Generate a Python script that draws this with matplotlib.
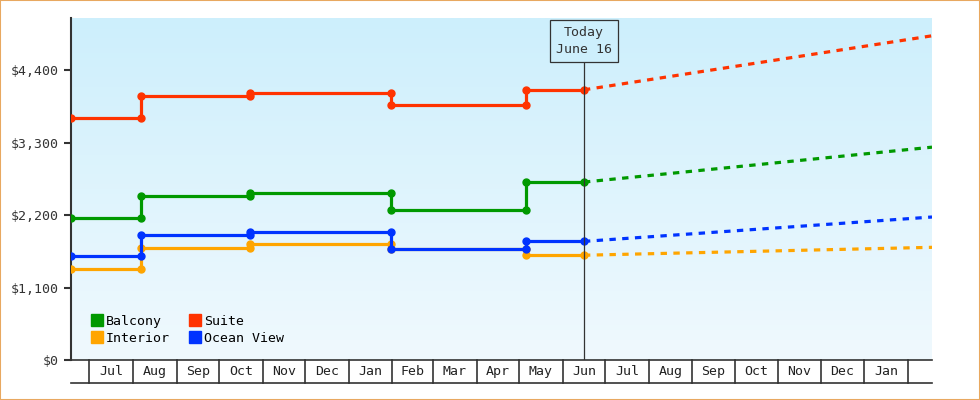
import matplotlib
matplotlib.use("Agg")
import matplotlib.pyplot as plt
import matplotlib.dates as mdates
import matplotlib.transforms as mtrans
import numpy as np
from datetime import date

plt.rcParams['font.family'] = ['DejaVu Sans Mono']

series = ["Balcony", "Interior", "Suite", "Ocean View"]
colors = ["#009900", "#ffa500", "#ff3300", "#0033ff"]
change_dates = [date(2023, 6, 18), date(2023, 8, 7), date(2023, 10, 23), date(2024, 1, 31), date(2024, 5, 6)]
today = date(2024, 6, 16)
end_date = date(2025, 2, 18)
levels = {
    "Balcony":    [2160, 2490, 2530, 2280, 2700],
    "Interior":   [1380, 1700, 1760, 1690, 1590],
    "Suite":      [3670, 4010, 4050, 3870, 4100],
    "Ocean View": [1580, 1890, 1950, 1690, 1800],
}
forecast_end = {"Balcony": 3230, "Interior": 1710, "Suite": 4920, "Ocean View": 2170}
yticks = [0, 1100, 2200, 3300, 4400]
ytick_labels = ["$0", "$1,100", "$2,200", "$3,300", "$4,400"]
months = ["Jul", "Aug", "Sep", "Oct", "Nov", "Dec", "Jan", "Feb", "Mar", "Apr", "May", "Jun",
          "Jul", "Aug", "Sep", "Oct", "Nov", "Dec", "Jan"]

fig = plt.figure(figsize=(9.8, 4), dpi=100)
fig.patches.append(plt.Rectangle((0, 0), 1, 1, transform=fig.transFigure, fill=False,
                                 edgecolor="#e8a860", linewidth=1.5))
ax = fig.add_axes([71/980, 40/400, 861/980, 342/400])
x0, x1 = mdates.date2num(date(2023, 6, 18)), mdates.date2num(end_date)
ymax = 5190
ax.set_xlim(x0, x1)
ax.set_ylim(0, ymax)
grad = np.linspace(0, 1, 256).reshape(-1, 1)
from matplotlib.colors import LinearSegmentedColormap
cmap = LinearSegmentedColormap.from_list("bg", ["#f0f9fe", "#cdeffc"])
ax.imshow(grad, extent=[x0, x1, 0, ymax], origin="lower", aspect="auto", cmap=cmap, zorder=0)

tnum = mdates.date2num(today)
handles = []
for name, c in zip(series, colors):
    lv = levels[name]
    ds = [mdates.date2num(d) for d in change_dates] + [tnum]
    for i, v in enumerate(lv):
        ax.plot([ds[i], ds[i+1]], [v, v], color=c, lw=2.3, marker="o", ms=5, zorder=3)
        if i > 0:
            ax.plot([ds[i], ds[i]], [lv[i-1], v], color=c, lw=2.3, zorder=3)
    ax.plot([tnum, x1], [lv[-1], forecast_end[name]], color=c, lw=2.3, ls=(0, (2, 2)), zorder=3)
    handles.append(plt.Line2D([], [], color=c, marker="s", ls="none", ms=8, label=name))

ax.axvline(tnum, ymax=4550/ymax, color="#333333", lw=0.9, zorder=4)
ax.text(tnum, 4840, "Today\nJune 16", ha="center", va="center", fontsize=9.5, color="#333333",
        bbox=dict(boxstyle="square,pad=0.45", fc="#cdeffc", ec="#333333", lw=0.9), zorder=5,
        linespacing=1.4)

ax.legend(handles=handles, ncol=2, loc="lower left", bbox_to_anchor=(0.01, 0.01), frameon=False,
          fontsize=9.5, handlelength=0.8, handletextpad=0.3, columnspacing=1.5, labelspacing=0.3)

for s in ["top", "right", "bottom"]:
    ax.spines[s].set_visible(False)
ax.spines["left"].set_color("#333333")
ax.spines["left"].set_linewidth(1.5)
ax.set_yticks(yticks)
ax.set_yticklabels(ytick_labels, fontsize=9.5, color="#333333")
ax.tick_params(axis="y", length=5, width=1.5, color="#333333")
ax.set_xticks([])

trans = mtrans.blended_transform_factory(ax.transData, ax.transAxes)
h = 23/342
bounds = []
for k in range(20):
    y, m = 2023 + (6 + k) // 12, (6 + k) % 12 + 1
    bounds.append(mdates.date2num(date(y, m, 1)))
ax.plot([x0, x1], [0, 0], transform=ax.transAxes if False else trans, color="#333333", lw=1.2, clip_on=False)
ax.plot([x0, x1], [-h, -h], transform=trans, color="#333333", lw=1.2, clip_on=False)
for b in bounds[:-1] + [bounds[-1]]:
    if b <= x1:
        ax.plot([b, b], [0, -h], transform=trans, color="#333333", lw=1.2, clip_on=False)
for i, lab in enumerate(months):
    ax.text((bounds[i] + bounds[i+1]) / 2, -h/2, lab, transform=trans, ha="center", va="center",
            fontsize=9.5, color="#222222")

fig.savefig("out.png", dpi=100)
